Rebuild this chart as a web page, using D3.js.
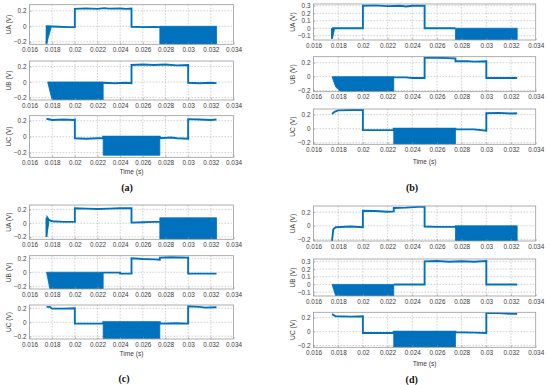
<!DOCTYPE html>
<html>
<head>
<meta charset="utf-8">
<script src="https://cdn.jsdelivr.net/npm/d3@7"></script>
<style>
  html, body { margin: 0; padding: 0; background: #fff; }
  svg { display: block; font-family: "Liberation Sans", Arial, sans-serif; }
</style>
</head>
<body>
<script>
// ---------------- DATA ----------------
const xDomain = [0.016, 0.034];
const xTicks = [0.016, 0.018, 0.02, 0.022, 0.024, 0.026, 0.028, 0.03, 0.032, 0.034];
const xTickLabels = ["0.016", "0.018", "0.02", "0.022", "0.024", "0.026", "0.028", "0.03", "0.032", "0.034"];
const yTicks3 = [-0.2, 0, 0.2];
const yTicks5 = [-0.1, 0, 0.1, 0.2, 0.3];
const channelLabels = ["UA (V)", "UB (V)", "UC (V)"];
const panelLabels = ["(a)", "(b)", "(c)", "(d)"];
const xAxisTitle = "Time (s)";

// y domains per panel / channel
const aDomains = [[-0.232, 0.279], [-0.232, 0.271], [-0.258, 0.263]];
const bDomains = [[-0.157, 0.324], [-0.216, 0.286], [-0.222, 0.28]];
const cDomains = [[-0.235, 0.268], [-0.24, 0.237], [-0.24, 0.247]];
const dDomains = [[-0.22, 0.288], [-0.15, 0.33], [-0.225, 0.277]];

// lines: [t, v]   bands (fast switching, drawn filled): [t, low, high]
const aUA_line = [[0.0175,-0.23],[0.01752,0.0],[0.0185,-0.005],[0.0195,-0.01],[0.02,-0.01],[0.02,0.225],[0.021,0.232],[0.022,0.225],[0.0226,0.235],[0.023,0.228],[0.024,0.23],[0.0245,0.225],[0.025,0.23],[0.025,-0.005],[0.026,-0.01],[0.027,-0.008],[0.0275,-0.01],[0.0275,0]];
const aUA_band = [[[0.0175,-0.23,0],[0.0179,-0.02,0]], [[0.0275,-0.232,0],[0.0325,-0.232,0]]];
const aUB_line = [[0.0225,0],[0.0225,-0.01],[0.0235,-0.015],[0.0245,-0.01],[0.025,-0.015],[0.025,0.22],[0.026,0.225],[0.027,0.22],[0.028,0.225],[0.029,0.215],[0.03,0.22],[0.03,-0.01],[0.031,-0.015],[0.032,-0.01],[0.0325,-0.015]];
const aUB_band = [[[0.0176,0,0],[0.018,-0.232,0],[0.0225,-0.232,0]]];
const aUC_line = [[0.0175,0.225],[0.018,0.21],[0.019,0.215],[0.0199,0.21],[0.02,0.215],[0.02,-0.02],[0.021,-0.025],[0.022,-0.02],[0.0225,-0.02],[0.0225,0],[0.0275,0],[0.0275,-0.02],[0.0285,-0.01],[0.029,-0.02],[0.03,-0.025],[0.03,0.22],[0.031,0.215],[0.032,0.21],[0.0325,0.215]];
const aUC_band = [[[0.0225,-0.232,0],[0.0275,-0.232,0]]];

const bUA_line = [[0.0175,0],[0.0175,-0.14],[0.0176,0],[0.02,0],[0.02,0.30],[0.021,0.305],[0.022,0.295],[0.023,0.30],[0.0235,0.29],[0.024,0.30],[0.025,0.30],[0.025,0],[0.0275,0]];
const bUA_band = [[[0.0175,-0.14,0],[0.0177,-0.02,0]], [[0.0275,-0.157,0],[0.0325,-0.157,0]]];
const bUB_line = [[0.0225,0],[0.0225,-0.01],[0.0235,-0.01],[0.024,-0.02],[0.025,-0.02],[0.025,0.275],[0.026,0.27],[0.027,0.265],[0.0275,0.26],[0.0275,0.22],[0.0285,0.22],[0.029,0.215],[0.03,0.22],[0.03,-0.02],[0.031,-0.02],[0.0325,-0.02]];
const bUB_band = [[[0.0175,0,0],[0.0178,-0.15,0],[0.0182,-0.212,0],[0.0225,-0.212,0]]];
const bUC_line = [[0.0175,0.21],[0.0177,0.24],[0.018,0.26],[0.019,0.265],[0.02,0.27],[0.02,-0.02],[0.0225,-0.02],[0.0225,0],[0.0275,0],[0.0275,-0.01],[0.029,-0.01],[0.03,-0.03],[0.03,0.22],[0.031,0.225],[0.032,0.215],[0.0325,0.22]];
const bUC_band = [[[0.0225,-0.222,0],[0.0275,-0.222,0]]];

const cUA_line = [[0.0175,-0.2],[0.0175,0.08],[0.01755,-0.1],[0.01758,0.08],[0.0177,0.05],[0.018,0.03],[0.019,0.02],[0.02,0.02],[0.02,0.22],[0.021,0.215],[0.022,0.21],[0.023,0.215],[0.024,0.22],[0.025,0.22],[0.025,0.01],[0.026,0.015],[0.027,0.02],[0.0275,0.02]];
const cUA_band = [[[0.0175,-0.2,0.08],[0.0177,0.0,0.06]], [[0.0275,-0.235,0.08],[0.0325,-0.235,0.08]]];
const cUB_line = [[0.0225,0],[0.0225,-0.005],[0.024,-0.005],[0.024,-0.02],[0.025,-0.02],[0.025,0.20],[0.026,0.19],[0.027,0.185],[0.0275,0.18],[0.0275,0.21],[0.0285,0.215],[0.03,0.21],[0.03,-0.02],[0.031,-0.02],[0.0325,-0.02]];
const cUB_band = [[[0.0175,0,0],[0.0178,-0.24,0],[0.0225,-0.24,0]]];
const cUC_line = [[0.0175,0.22],[0.0178,0.22],[0.018,0.195],[0.019,0.195],[0.02,0.2],[0.02,-0.02],[0.0225,-0.02],[0.0225,0],[0.0275,0],[0.0275,-0.02],[0.029,-0.015],[0.03,-0.02],[0.03,0.23],[0.031,0.22],[0.0315,0.21],[0.0325,0.215]];
const cUC_band = [[[0.0225,-0.235,0],[0.0275,-0.235,0]]];

const dUA_line = [[0.0175,-0.22],[0.0176,-0.05],[0.0178,-0.02],[0.019,-0.01],[0.02,-0.02],[0.02,0.22],[0.021,0.215],[0.022,0.205],[0.0225,0.21],[0.0225,0.26],[0.0235,0.265],[0.0245,0.275],[0.025,0.28],[0.025,-0.01],[0.026,-0.015],[0.0275,-0.015],[0.0275,0]];
const dUA_band = [[[0.0275,-0.22,0],[0.0325,-0.22,0]]];
const dUB_line = [[0.0225,0],[0.025,0],[0.025,0.30],[0.026,0.305],[0.027,0.295],[0.028,0.30],[0.029,0.295],[0.03,0.305],[0.03,0],[0.0325,0]];
const dUB_band = [[[0.0175,0,0],[0.0178,-0.15,0],[0.0225,-0.15,0]]];
const dUC_line = [[0.0175,0.25],[0.0178,0.22],[0.019,0.215],[0.02,0.22],[0.02,-0.02],[0.0225,-0.02],[0.0225,0],[0.0275,0],[0.0275,-0.01],[0.029,-0.015],[0.03,-0.02],[0.03,0.27],[0.031,0.265],[0.032,0.255],[0.0325,0.255]];
const dUC_band = [[[0.0225,-0.225,0],[0.0275,-0.225,0]]];

// ---------------- LAYOUT ----------------
const BLUE = "#0072BD";
const panels = [
  { x: [29.5, 233.5], boxes: [[4.7, 44.3], [61, 100], [115.7, 157.3]], timeY: 171.7, labelY: 187.3, labelX: 127,
    domains: aDomains, yt: [yTicks3, yTicks3, yTicks3],
    lines: [aUA_line, aUB_line, aUC_line], bands: [aUA_band, aUB_band, aUC_band] },
  { x: [313.5, 535.7], boxes: [[4, 40], [56.7, 91.7], [109, 144.3]], timeY: 161.7, labelY: 187.7, labelX: 412,
    domains: bDomains, yt: [yTicks5, yTicks3, yTicks3],
    lines: [bUA_line, bUB_line, bUC_line], bands: [bUA_band, bUB_band, bUC_band] },
  { x: [29.5, 233.5], boxes: [[205, 239.3], [255.7, 289], [305, 339]], timeY: 354, labelY: 378.3, labelX: 124,
    domains: cDomains, yt: [yTicks3, yTicks3, yTicks3],
    lines: [cUA_line, cUB_line, cUC_line], bands: [cUA_band, cUB_band, cUC_band] },
  { x: [313.5, 535.7], boxes: [[206, 241], [259, 296], [312.3, 347.3]], timeY: 363.3, labelY: 379.3, labelX: 411.7,
    domains: dDomains, yt: [yTicks3, yTicks5, yTicks3],
    lines: [dUA_line, dUB_line, dUC_line], bands: [dUA_band, dUB_band, dUC_band] }
];

const svg = d3.select("body").append("svg").attr("width", 550).attr("height", 385);
const defs = svg.append("defs");
const yFmt = d => (d === 0 ? "0" : d3.format("~g")(d));

let clipId = 0;
panels.forEach((p, pi) => {
  const x = d3.scaleLinear().domain(xDomain).range(p.x);
  p.boxes.forEach((b, ci) => {
    const [top, bottom] = b;
    const y = d3.scaleLinear().domain(p.domains[ci]).range([bottom, top]);
    const g = svg.append("g");
    const id = "clip" + (clipId++);
    defs.append("clipPath").attr("id", id).append("rect")
      .attr("x", p.x[0]).attr("y", top).attr("width", p.x[1] - p.x[0]).attr("height", bottom - top);

    // grid
    const grid = g.append("g").attr("stroke", "#b4b4b4").attr("stroke-width", 0.6).attr("stroke-dasharray", "1.6,1.4");
    xTicks.slice(1, -1).forEach(t => grid.append("line").attr("x1", x(t)).attr("x2", x(t)).attr("y1", top).attr("y2", bottom));
    p.yt[ci].forEach(v => grid.append("line").attr("x1", p.x[0]).attr("x2", p.x[1]).attr("y1", y(v)).attr("y2", y(v)));

    const plot = g.append("g").attr("clip-path", `url(#${id})`);
    const area = d3.area().x(d => x(d[0])).y0(d => y(d[1])).y1(d => y(d[2]));
    p.bands[ci].forEach(band => plot.append("path").attr("d", area(band)).attr("fill", BLUE).attr("stroke", BLUE).attr("stroke-width", 0.8));
    const line = d3.line().x(d => x(d[0])).y(d => y(d[1]));
    plot.append("path").attr("d", line(p.lines[ci])).attr("fill", "none").attr("stroke", BLUE).attr("stroke-width", 1.9);

    // frame
    g.append("rect").attr("x", p.x[0]).attr("y", top).attr("width", p.x[1] - p.x[0]).attr("height", bottom - top)
      .attr("fill", "none").attr("stroke", "#9a9a9a").attr("stroke-width", 0.8);

    // axes
    const xa = g.append("g").attr("transform", `translate(0,${bottom})`)
      .call(d3.axisBottom(x).tickValues(xTicks).tickFormat((d, i) => xTickLabels[i]).tickSize(-2).tickPadding(4));
    const ya = g.append("g").attr("transform", `translate(${p.x[0]},0)`)
      .call(d3.axisLeft(y).tickValues(p.yt[ci]).tickFormat(yFmt).tickSize(-2).tickPadding(3));
    [xa, ya].forEach(a => {
      a.select(".domain").remove();
      a.selectAll(".tick line").attr("stroke", "#9a9a9a").attr("stroke-width", 0.6);
      a.selectAll(".tick text").attr("fill", "#3c3c3c").style("font-size", "6.4px").style("font-family", "'Liberation Sans', Arial, sans-serif");
    });
    xa.selectAll(".tick text").attr("dy", "0.55em");

    // y label
    g.append("text").attr("transform", `translate(${p.x[0] - 19},${(top + bottom) / 2}) rotate(-90)`)
      .attr("text-anchor", "middle").attr("fill", "#3c3c3c").style("font-size", "6.6px").text(channelLabels[ci]);
  });
  // x title
  svg.append("text").attr("x", (p.x[0] + p.x[1]) / 2).attr("y", p.timeY).attr("dy", "0.35em")
    .attr("text-anchor", "middle").attr("fill", "#3c3c3c").style("font-size", "6.6px").text(xAxisTitle);
  // panel label
  svg.append("text").attr("x", p.labelX).attr("y", p.labelY).attr("dy", "0.35em")
    .attr("text-anchor", "middle").attr("fill", "#111").style("font-family", "'Liberation Serif', 'DejaVu Serif', serif")
    .style("font-weight", "bold").style("font-size", "10px").text(panelLabels[pi]);
});
</script>
</body>
</html>
